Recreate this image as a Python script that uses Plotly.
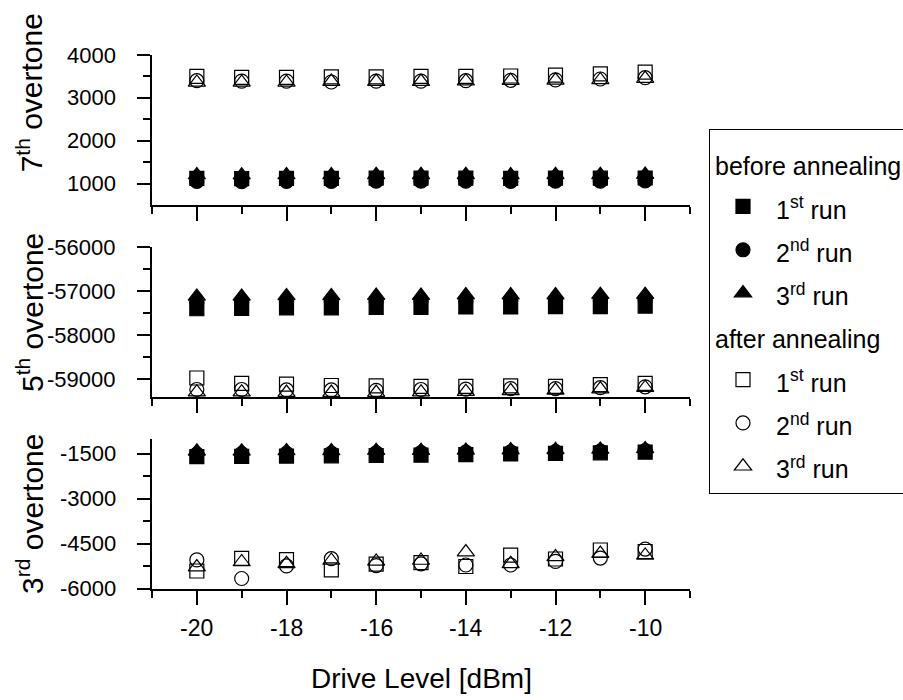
import plotly.graph_objects as go

# ---------------- data ----------------
drive_level = [-20, -19, -18, -17, -16, -15, -14, -13, -12, -11, -10]

# 7th overtone
o7_before_1 = [1120, 1115, 1120, 1120, 1125, 1125, 1125, 1120, 1125, 1125, 1130]
o7_before_2 = [1050, 1045, 1050, 1050, 1055, 1055, 1055, 1050, 1055, 1055, 1060]
o7_before_3 = [1200, 1195, 1200, 1200, 1205, 1205, 1205, 1200, 1205, 1205, 1210]
o7_after_1 = [3500, 3480, 3480, 3490, 3490, 3500, 3500, 3510, 3530, 3560, 3600]
o7_after_2 = [3400, 3390, 3390, 3370, 3390, 3390, 3400, 3410, 3420, 3440, 3470]
o7_after_3 = [3360, 3360, 3360, 3380, 3380, 3380, 3390, 3400, 3410, 3420, 3450]

# 5th overtone
o5_before_1 = [-57400, -57390, -57380, -57380, -57370, -57370, -57360, -57360, -57350, -57350, -57340]
o5_before_2 = [-57260, -57250, -57250, -57240, -57240, -57230, -57230, -57220, -57220, -57210, -57200]
o5_before_3 = [-57120, -57120, -57110, -57110, -57100, -57100, -57090, -57090, -57090, -57080, -57080]
o5_after_1 = [-58970, -59090, -59110, -59140, -59150, -59160, -59160, -59150, -59160, -59120, -59090]
o5_after_2 = [-59230, -59230, -59240, -59240, -59250, -59230, -59220, -59210, -59210, -59190, -59170]
o5_after_3 = [-59290, -59290, -59300, -59300, -59300, -59290, -59280, -59260, -59250, -59220, -59190]

# 3rd overtone
o3_before_1 = [-1590, -1580, -1570, -1560, -1550, -1540, -1520, -1500, -1480, -1460, -1440]
o3_before_2 = [-1500, -1490, -1480, -1470, -1460, -1450, -1440, -1430, -1420, -1400, -1390]
o3_before_3 = [-1410, -1410, -1400, -1400, -1390, -1390, -1380, -1370, -1360, -1350, -1330]
o3_after_1 = [-5400, -4980, -5020, -5360, -5170, -5120, -5250, -4870, -5000, -4700, -4750]
o3_after_2 = [-5030, -5650, -5230, -4990, -5220, -5160, -5200, -5200, -5080, -4970, -4670]
o3_after_3 = [-5270, -5100, -5160, -5050, -5080, -5050, -4770, -5160, -4930, -4820, -4880]

# ticks
x_tickvals = [-20, -18, -16, -14, -12, -10]
x_ticktext = ["-20", "-18", "-16", "-14", "-12", "-10"]
x_minorvals = [-21, -19, -17, -15, -13, -11, -9]

y7_tickvals = [1000, 2000, 3000, 4000]
y7_ticktext = ["1000", "2000", "3000", "4000"]
y7_minorvals = [1500, 2500, 3500]

y5_tickvals = [-59000, -58000, -57000, -56000]
y5_ticktext = ["-59000", "-58000", "-57000", "-56000"]
y5_minorvals = [-58500, -57500, -56500]

y3_tickvals = [-6000, -4500, -3000, -1500]
y3_ticktext = ["-6000", "-4500", "-3000", "-1500"]
y3_minorvals = [-5250, -3750, -2250]

series_labels = ["1<sup>st</sup> run", "2<sup>nd</sup> run", "3<sup>rd</sup> run"]
group_titles = ["before annealing", "after annealing"]

# ---------------- figure ----------------
FONT = "Liberation Sans"
fig = go.Figure()

symbols_before = ["square", "circle", "triangle-up"]
symbols_after = ["square-open", "circle-open", "triangle-up-open"]
sizes = [14, 14, 15]

panels = [
    ("x", "y", [o3_before_1, o3_before_2, o3_before_3], [o3_after_1, o3_after_2, o3_after_3]),
    ("x2", "y2", [o5_before_1, o5_before_2, o5_before_3], [o5_after_1, o5_after_2, o5_after_3]),
    ("x3", "y3", [o7_before_1, o7_before_2, o7_before_3], [o7_after_1, o7_after_2, o7_after_3]),
]

def lab(t):
    return '<span style="font-size:25px">' + t + '</span>'

for pi, (xa, ya, before, after) in enumerate(panels):
    for gi, (group, sets, syms) in enumerate([("before", before, symbols_before),
                                               ("after", after, symbols_after)]):
        for si in range(3):
            kw = {}
            if pi == 0 and si == 0:
                kw["legendgrouptitle"] = dict(text=lab(group_titles[gi]),
                                              font=dict(family=FONT, size=31, color="black"))
            fig.add_trace(go.Scatter(
                x=drive_level, y=sets[si], xaxis=xa, yaxis=ya,
                mode="markers", cliponaxis=False,
                name=lab(series_labels[si]), legendgroup=group,
                showlegend=(pi == 0),
                marker=dict(symbol=syms[si], size=sizes[si], color="black",
                            line=dict(color="black", width=1.2)),
                **kw))

axis_common = dict(showline=True, linewidth=2, linecolor="black", ticks="outside",
                   tickwidth=2, tickcolor="black", showgrid=False, zeroline=False,
                   mirror=False, showticklabels=False)

def xaxis(anchor):
    return dict(axis_common, anchor=anchor, domain=[0, 1], range=[-21, -9],
                tickmode="array", tickvals=x_tickvals, ticklen=14,
                minor=dict(tickmode="array", tickvals=x_minorvals, ticks="outside",
                           ticklen=7, tickwidth=2, tickcolor="black", showgrid=False))

def yaxis(anchor, domain, rng, tv, mv):
    return dict(axis_common, anchor=anchor, domain=domain, range=rng,
                tickmode="array", tickvals=tv, ticklen=13,
                minor=dict(tickmode="array", tickvals=mv, ticks="outside",
                           ticklen=7, tickwidth=2, tickcolor="black", showgrid=False))

fig.update_layout(
    width=903, height=700,
    margin=dict(l=152, r=213, t=55, b=111, autoexpand=False),
    paper_bgcolor="white", plot_bgcolor="white",
    font=dict(family=FONT, color="black"),
    xaxis=xaxis("y"),
    xaxis2=xaxis("y2"),
    xaxis3=xaxis("y3"),
    yaxis=yaxis("x", [0, 0.2809], [-6000, -1000], y3_tickvals, y3_minorvals),
    yaxis2=yaxis("x2", [0.3596, 0.6404], [-59400, -56000], y5_tickvals, y5_minorvals),
    yaxis3=yaxis("x3", [0.7191, 1], [500, 4000], y7_tickvals, y7_minorvals),
    legend=dict(x=1.0353, y=0.8614, xanchor="left", yanchor="top",
                bordercolor="black", borderwidth=1, bgcolor="white",
                font=dict(family=FONT, size=31, color="black"),
                title=dict(text=" ", font=dict(family=FONT, size=5)),
                tracegroupgap=0, itemwidth=56, traceorder="grouped"),
    showlegend=True,
)

# tick labels (placed through the axes' own scales)
tick_font = dict(family=FONT, size=22, color="black")
for yref, tv, tt in [("y", y3_tickvals, y3_ticktext), ("y2", y5_tickvals, y5_ticktext),
                     ("y3", y7_tickvals, y7_ticktext)]:
    for v, t in zip(tv, tt):
        fig.add_annotation(text=t, xref="paper", yref=yref, x=-0.0632, y=v,
                           xanchor="right", yanchor="middle", showarrow=False,
                           font=tick_font)
for v, t in zip(x_tickvals, x_ticktext):
    fig.add_annotation(text=t, xref="x", yref="paper", x=v, y=-0.0721,
                       xanchor="center", yanchor="middle", showarrow=False,
                       font=dict(family=FONT, size=23, color="black"))

fig.add_annotation(text="Drive Level [dBm]", xref="paper", yref="paper",
                   x=0.5, y=-0.1667, xanchor="center", yanchor="middle",
                   showarrow=False, font=dict(family=FONT, size=28, color="black"))
ytitles = [("7<sup>th</sup> overtone", 0.93), ("5<sup>th</sup> overtone", 0.5187),
           ("3<sup>rd</sup> overtone", 0.1404)]
for t, yy in ytitles:
    fig.add_annotation(text=t, xref="paper", yref="paper", x=-0.2268, y=yy,
                       xanchor="center", yanchor="middle", textangle=-90,
                       showarrow=False, font=dict(family=FONT, size=30, color="black"))

fig.write_html("out.html")
